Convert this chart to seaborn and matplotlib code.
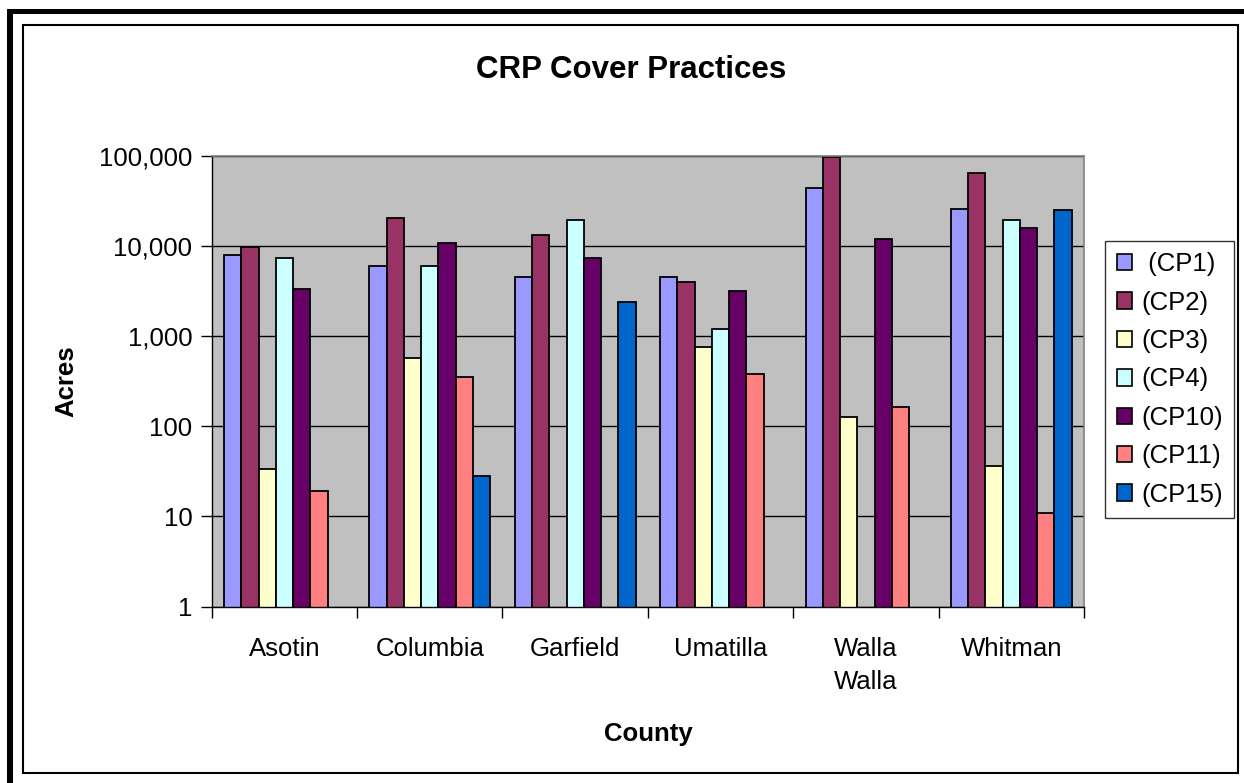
import numpy as np
import pandas as pd
import matplotlib.pyplot as plt
from matplotlib.patches import Rectangle
from matplotlib.ticker import FuncFormatter, NullLocator, FixedLocator
import seaborn as sns

counties = ["Asotin", "Columbia", "Garfield", "Umatilla", "Walla\nWalla", "Whitman"]
practices = [" (CP1)", "(CP2)", "(CP3)", "(CP4)", "(CP10)", "(CP11)", "(CP15)"]
colors = ["#9999FF", "#993366", "#FFFFCC", "#CCFFFF", "#660066", "#FF8080", "#0066CC"]

# acres per county, one list per practice (nan = no bar)
cp1 = [7900, 5950, 4500, 4500, 43800, 25900]
cp2 = [9700, 20200, 13300, 3950, 96000, 63800]
cp3 = [34, 577, np.nan, 763, 128, 36]
cp4 = [7300, 5950, 19400, 1200, np.nan, 19400]
cp10 = [3330, 10850, 7300, 3190, 11900, 15800]
cp11 = [19, 352, np.nan, 383, 164, 11]
cp15 = [np.nan, 28, 2390, np.nan, np.nan, 24800]

values = [cp1, cp2, cp3, cp4, cp10, cp11, cp15]
rows = []
for p, vals in zip(practices, values):
    for c, v in zip(counties, vals):
        rows.append({"County": c, "Practice": p, "Acres": v})
df = pd.DataFrame(rows).dropna()

sns.set_style("white")
plt.rcParams["font.family"] = ["Liberation Sans", "DejaVu Sans"]
plt.rcParams["text.color"] = "black"
plt.rcParams["axes.labelcolor"] = "black"
plt.rcParams["xtick.color"] = "black"
plt.rcParams["ytick.color"] = "black"

fig = plt.figure(figsize=(12.44, 7.83), dpi=100)
ax = fig.add_axes([0.1702, 0.2252, 0.8714 - 0.1702, 0.8012 - 0.2252])
ax.set_facecolor("#C0C0C0")

sns.barplot(data=df, x="County", y="Acres", hue="Practice", order=counties,
            hue_order=practices, palette=colors, width=0.83, errorbar=None,
            edgecolor="black", linewidth=1.3, saturation=1, ax=ax)

ax.set_yscale("log")
ax.set_ylim(1, 100000)
ax.set_xlim(-0.5, 5.5)
ax.yaxis.set_major_locator(FixedLocator([1, 10, 100, 1000, 10000, 100000]))
ax.yaxis.set_minor_locator(NullLocator())
ax.yaxis.set_major_formatter(FuncFormatter(lambda v, pos: f"{v:,.0f}"))
ax.grid(axis="y", color="black", linewidth=1)
ax.set_axisbelow(True)

ax.xaxis.set_minor_locator(FixedLocator(np.arange(-0.5, 6, 1)))
ax.tick_params(axis="x", which="major", length=0, pad=22, labelsize=18.5)
ax.tick_params(axis="x", which="minor", length=8, width=1, color="black", direction="out")
ax.tick_params(axis="y", length=8, width=1, color="black", direction="out", pad=6, labelsize=18.5)
ax.tick_params(bottom=True, left=True, which="both")
for lab in ax.get_xticklabels():
    lab.set_linespacing(1.45)

for side in ["top", "right"]:
    ax.spines[side].set_color("#808080")
    ax.spines[side].set_linewidth(1.2)
for side in ["left", "bottom"]:
    ax.spines[side].set_color("black")
    ax.spines[side].set_linewidth(1)

ax.set_xlabel("County", fontsize=18.5, fontweight="bold", labelpad=20)
ax.set_ylabel("Acres", fontsize=18.5, fontweight="bold", labelpad=15)
fig.text(0.507, 1 - 70 / 783, "CRP Cover Practices", ha="center", va="center",
         fontsize=22.5, fontweight="bold")

ax.get_legend().remove()
handles = [Rectangle((0, 0), 1, 1, facecolor=c, edgecolor="black", linewidth=1.2) for c in colors]
leg = fig.legend(handles, practices, loc="upper left", bbox_to_anchor=(1105 / 1244, 1 - 240.7 / 783),
                 fontsize=18.5, frameon=True, fancybox=False, edgecolor="black",
                 handlelength=0.6, handleheight=0.6, handletextpad=0.35,
                 labelspacing=0.56, borderpad=0.45, borderaxespad=0)
leg.get_frame().set_linewidth(1)

# chart frame: thin inner border, thick top/left border
fig.add_artist(Rectangle((23 / 1244, 1 - 773 / 783), (1238 - 23) / 1244, (773 - 25) / 783,
                         transform=fig.transFigure, fill=False, edgecolor="black", linewidth=1.5))
fig.add_artist(Rectangle((7 / 1244, 1 - 14 / 783), 1, 5.5 / 783,
                         transform=fig.transFigure, facecolor="black", edgecolor="none"))
fig.add_artist(Rectangle((7 / 1244, 0), 6 / 1244, 1 - 9 / 783,
                         transform=fig.transFigure, facecolor="black", edgecolor="none"))

fig.savefig("out.png", dpi=100, facecolor="white")
